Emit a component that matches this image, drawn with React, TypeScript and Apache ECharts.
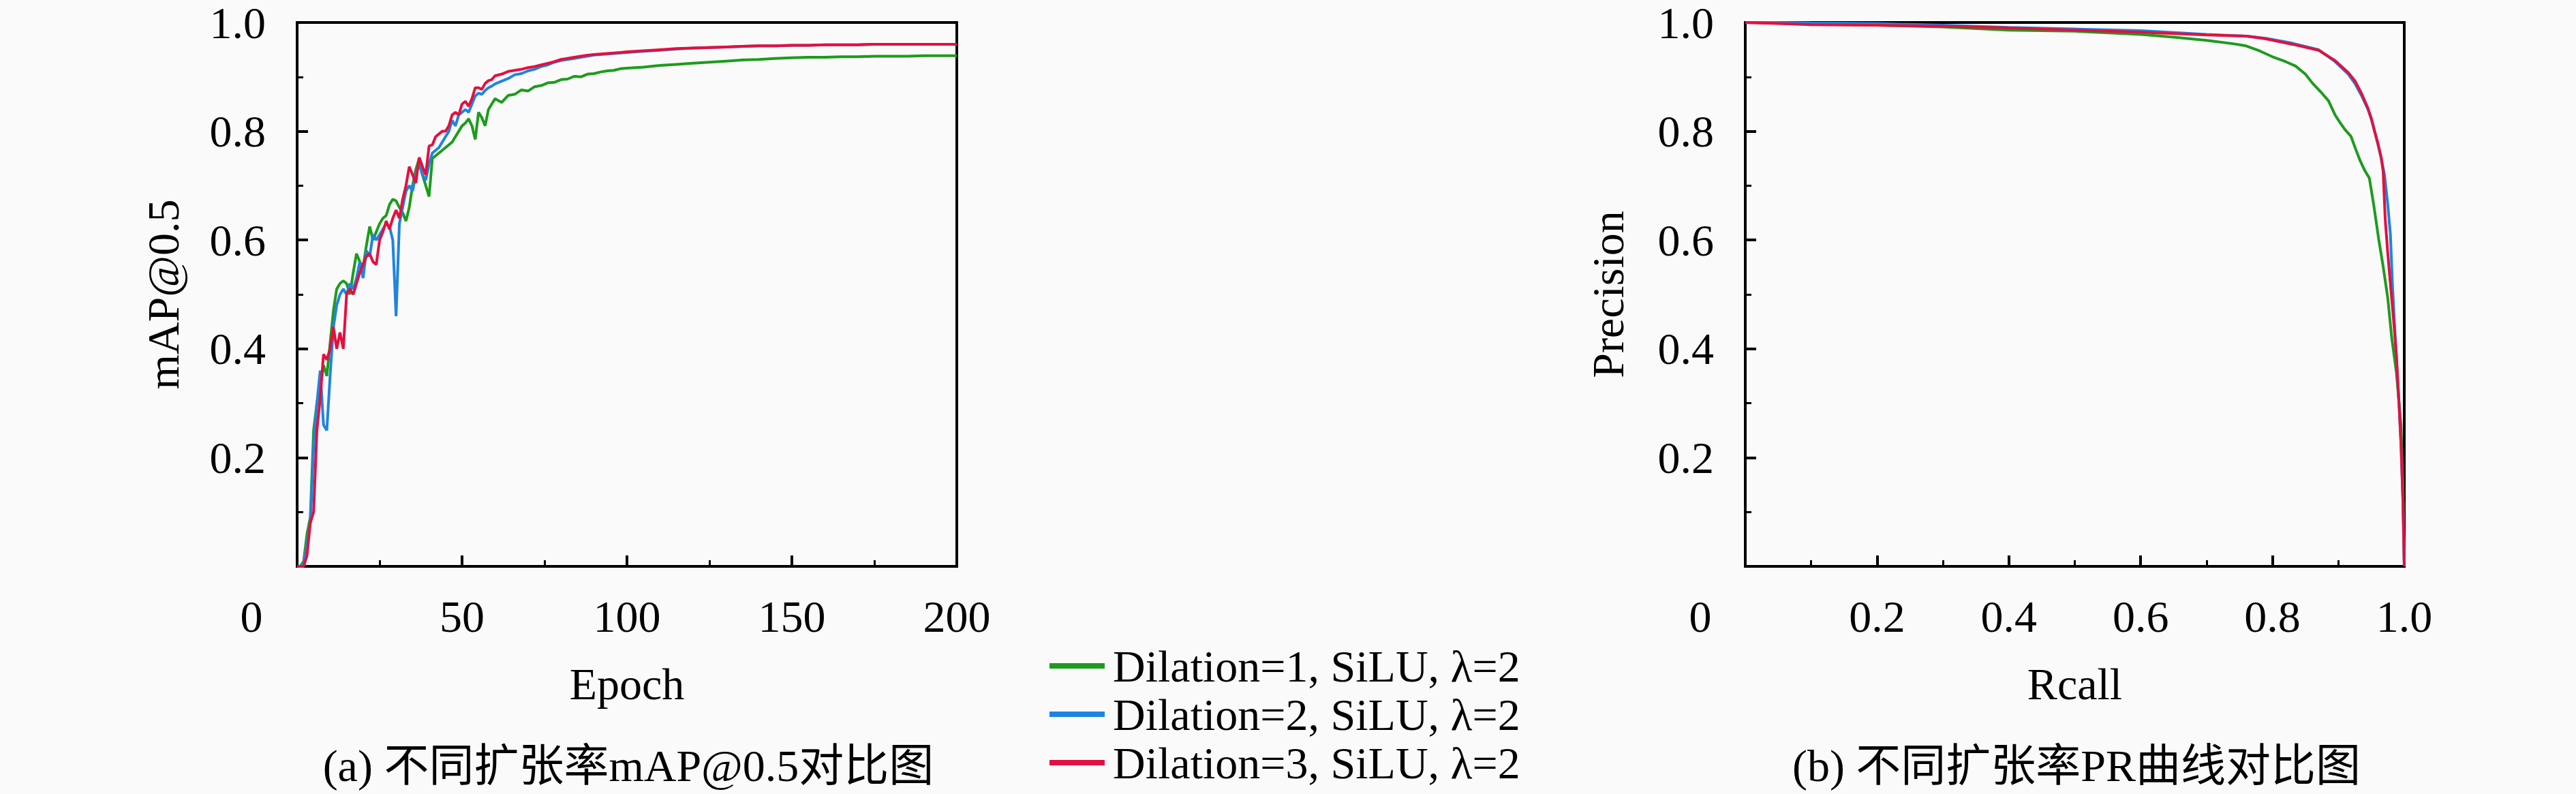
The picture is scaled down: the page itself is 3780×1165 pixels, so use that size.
import React, { useEffect, useRef } from "react";
import * as echarts from "echarts";

const epochs = [
  0, 1, 2, 3, 4, 5, 6, 7, 8, 9, 10, 11, 12, 13, 14, 15, 16, 17, 18, 19, 20, 21, 22, 23, 24, 25, 26, 27, 28, 29,
  30, 31, 32, 33, 34, 35, 36, 37, 38, 39, 40, 41, 42, 43, 44, 45, 46, 47, 48, 49, 50, 51, 52, 53, 54, 55, 56, 57, 58, 59,
  60, 62, 64, 66, 68, 70, 72, 74, 76, 78, 80, 82, 84, 86, 88, 90, 92, 94, 96, 98, 100,
  105, 110, 115, 120, 125, 130, 135, 140, 145, 150, 155, 160, 165, 170, 175, 180, 185, 190, 195, 200,
];

const mapD1 = [
  0.0, 0.0, 0.01, 0.06, 0.09, 0.25, 0.3, 0.33, 0.37, 0.35,
  0.41, 0.47, 0.51, 0.52, 0.525, 0.52, 0.5, 0.54, 0.575, 0.56,
  0.55, 0.59, 0.625, 0.6, 0.615, 0.63, 0.64, 0.645, 0.665, 0.675,
  0.672, 0.66, 0.65, 0.635, 0.66, 0.7, 0.73, 0.75, 0.72, 0.7,
  0.68, 0.75, 0.755, 0.76, 0.765, 0.77, 0.775, 0.78, 0.79, 0.8,
  0.81, 0.815, 0.823, 0.81, 0.785, 0.835, 0.825, 0.81, 0.84, 0.85,
  0.86,
  0.853, 0.866, 0.868, 0.876, 0.874, 0.882, 0.884, 0.889, 0.89, 0.895, 0.896, 0.901, 0.9, 0.905, 0.906, 0.909, 0.911, 0.912, 0.915, 0.916,
  0.918, 0.921, 0.923, 0.925, 0.927, 0.929, 0.931, 0.932, 0.934, 0.935, 0.936, 0.936, 0.937, 0.937, 0.938, 0.938, 0.938, 0.939, 0.939, 0.939,
];

const mapD2 = [
  0.0, 0.0, 0.005, 0.04, 0.08, 0.22, 0.3, 0.36, 0.26, 0.25,
  0.35, 0.44, 0.48, 0.5, 0.51, 0.5, 0.52, 0.51, 0.53, 0.56,
  0.53, 0.58, 0.57, 0.61, 0.6, 0.61, 0.62, 0.63, 0.625, 0.6,
  0.46, 0.63, 0.66, 0.69, 0.7, 0.69, 0.72, 0.74, 0.72, 0.71,
  0.74, 0.76, 0.765, 0.77, 0.78, 0.79, 0.8, 0.82, 0.81, 0.83,
  0.835, 0.84, 0.835, 0.85, 0.865, 0.87, 0.868, 0.875, 0.88, 0.883,
  0.887,
  0.892, 0.897, 0.904, 0.906, 0.911, 0.914, 0.919, 0.922, 0.927, 0.93, 0.932, 0.934, 0.936, 0.938, 0.94, 0.941, 0.942, 0.943, 0.944, 0.945,
  0.947, 0.949, 0.951, 0.953, 0.954, 0.955, 0.956, 0.957, 0.957, 0.958, 0.958, 0.959, 0.959, 0.959, 0.96, 0.96, 0.96, 0.96, 0.96, 0.96,
];

const mapD3 = [
  0.0, 0.0, 0.0, 0.02, 0.08, 0.1, 0.25, 0.31, 0.39, 0.38,
  0.4, 0.44, 0.4, 0.43, 0.4, 0.5, 0.51, 0.5, 0.52, 0.54,
  0.555, 0.57, 0.575, 0.56, 0.555, 0.6, 0.615, 0.635, 0.62, 0.64,
  0.655, 0.64, 0.675, 0.7, 0.735, 0.72, 0.705, 0.752, 0.735, 0.72,
  0.773, 0.775, 0.79, 0.795, 0.8, 0.8, 0.81, 0.83, 0.835, 0.83,
  0.85, 0.855, 0.846, 0.86, 0.88, 0.88, 0.877, 0.888, 0.893, 0.895,
  0.902,
  0.905, 0.91, 0.912, 0.914, 0.917, 0.919, 0.922, 0.925, 0.928, 0.932, 0.934, 0.936, 0.938, 0.94, 0.941, 0.942, 0.943, 0.944, 0.945, 0.946,
  0.948, 0.95, 0.952, 0.953, 0.954, 0.955, 0.956, 0.957, 0.957, 0.958, 0.958, 0.959, 0.959, 0.959, 0.96, 0.96, 0.96, 0.96, 0.96, 0.96,
];

const recallD1 = [
  0, 0.05, 0.1, 0.2, 0.3, 0.4, 0.5, 0.6, 0.65, 0.7, 0.74, 0.76, 0.78, 0.8, 0.82, 0.835, 0.85, 0.861, 0.875, 0.885,
  0.895, 0.902, 0.91, 0.919, 0.926, 0.933, 0.94, 0.947, 0.954, 0.961, 0.968, 0.975, 0.981, 0.988, 0.995, 0.998, 1.0,
];
const precD1 = [
  1.0, 0.999, 0.997, 0.995, 0.992, 0.986, 0.984, 0.978, 0.973, 0.967, 0.961, 0.957, 0.948, 0.937, 0.928, 0.92, 0.905, 0.888, 0.87, 0.856,
  0.83, 0.817, 0.803, 0.791, 0.768, 0.746, 0.728, 0.714, 0.662, 0.603, 0.551, 0.493, 0.42, 0.357, 0.26, 0.15, 0.0,
];

const recallD2 = [
  0, 0.05, 0.1, 0.2, 0.3, 0.4, 0.5, 0.6, 0.7, 0.76, 0.79, 0.83, 0.87, 0.895, 0.915, 0.925, 0.935, 0.945, 0.95, 0.955,
  0.96, 0.965, 0.97, 0.975, 0.979, 0.982, 0.985, 0.988, 0.992, 0.995, 0.998, 1.0,
];
const precD2 = [
  1.0, 1.0, 0.999, 0.998, 0.995, 0.991, 0.988, 0.985, 0.978, 0.975, 0.971, 0.962, 0.95, 0.928, 0.905, 0.888, 0.866, 0.84, 0.822, 0.8,
  0.776, 0.75, 0.72, 0.665, 0.61, 0.52, 0.45, 0.385, 0.3, 0.225, 0.12, 0.0,
];

const recallD3 = [
  0, 0.05, 0.1, 0.2, 0.3, 0.4, 0.5, 0.6, 0.7, 0.76, 0.79, 0.83, 0.87, 0.895, 0.915, 0.925, 0.935, 0.945, 0.95, 0.955,
  0.96, 0.965, 0.968, 0.971, 0.975, 0.979, 0.984, 0.988, 0.992, 0.995, 0.998, 1.0,
];
const precD3 = [
  1.0, 0.998, 0.996, 0.995, 0.993, 0.99, 0.986, 0.982, 0.977, 0.975, 0.97, 0.96, 0.949, 0.93, 0.908, 0.893, 0.87, 0.842, 0.824, 0.8,
  0.778, 0.752, 0.726, 0.64, 0.575, 0.519, 0.45, 0.389, 0.3, 0.227, 0.12, 0.0,
];

const seriesNames = ["Dilation=1, SiLU, λ=2", "Dilation=2, SiLU, λ=2", "Dilation=3, SiLU, λ=2"];
const seriesColors = ["#1c9c1c", "#1f84e0", "#e3103e"];
const epochTicks = [0, 50, 100, 150, 200];
const captionA = "(a) 不同扩张率mAP@0.5对比图";
const captionB = "(b) 不同扩张率PR曲线对比图";

const FONT = "Liberation Serif, Noto Sans CJK SC";
const FS = 66;

function pairs(xs: number[], ys: number[]) {
  return xs.map((x, i) => [x, ys[i]]);
}

export default function App() {
  const ref = useRef<HTMLDivElement>(null);
  useEffect(() => {
    if (!ref.current) return;
    const chart = echarts.init(ref.current, null, { renderer: "svg" });
    const axisCommon = {
      axisLine: { show: true, onZero: false, lineStyle: { color: "#000", width: 4 } },
      axisTick: { show: true, inside: true, length: 16, lineStyle: { color: "#000", width: 4 } },
      minorTick: { show: true, splitNumber: 2, length: 9, lineStyle: { color: "#000", width: 3 } },
      splitLine: { show: false },
      minorSplitLine: { show: false },
      nameTextStyle: { fontFamily: FONT, fontSize: FS, color: "#000" },
    };
    const labelCommon = {
      fontFamily: FONT,
      fontSize: FS,
      lineHeight: 50,
      color: "#000",
      showMinLabel: false,
    };
    const lineSeries = (name: string, color: string, data: number[][], xi: number) => ({
      type: "line",
      name,
      xAxisIndex: xi,
      yAxisIndex: xi,
      data,
      showSymbol: false,
      symbol: "none",
      lineStyle: { color, width: 4 },
      itemStyle: { color },
      z: 3,
    });
    const yLabel = { ...labelCommon, margin: 46, padding: [16, 0, 0, 0], formatter: (v: number) => v.toFixed(1) };
    chart.setOption({
      animation: false,
      backgroundColor: "#fafafa",
      textStyle: { fontFamily: FONT },
      grid: [
        { left: 436, top: 24, width: 968, height: 807, show: true, borderColor: "#000", borderWidth: 4, backgroundColor: "transparent" },
        { left: 2561, top: 24, width: 967, height: 807, show: true, borderColor: "#000", borderWidth: 4, backgroundColor: "transparent" },
      ],
      xAxis: [
        {
          ...axisCommon,
          type: "value",
          gridIndex: 0,
          min: epochTicks[0],
          max: epochTicks[epochTicks.length - 1],
          interval: 50,
          name: "Epoch",
          nameLocation: "middle",
          nameGap: 139,
          axisLabel: { ...labelCommon, margin: 48 },
        },
        {
          ...axisCommon,
          type: "value",
          gridIndex: 1,
          min: 0,
          max: 1,
          interval: 0.2,
          name: "Rcall",
          nameLocation: "middle",
          nameGap: 139,
          axisLabel: { ...labelCommon, margin: 48, formatter: (v: number) => v.toFixed(1) },
        },
      ],
      yAxis: [
        {
          ...axisCommon,
          type: "value",
          gridIndex: 0,
          min: 0,
          max: 1,
          interval: 0.2,
          name: "mAP@0.5",
          nameLocation: "middle",
          nameGap: 164,
          axisLabel: yLabel,
        },
        {
          ...axisCommon,
          type: "value",
          gridIndex: 1,
          min: 0,
          max: 1,
          interval: 0.2,
          name: "Precision",
          nameLocation: "middle",
          nameGap: 169,
          axisLabel: yLabel,
        },
      ],
      legend: {
        orient: "vertical",
        left: 1535,
        top: 939,
        itemWidth: 81,
        itemHeight: 20,
        itemGap: 5,
        icon: "path://M0,0 L10,0 L10,1 L0,1 Z",
        textStyle: { fontFamily: FONT, fontSize: FS, color: "#000", padding: [0, 0, 0, 7] },
        data: seriesNames,
      },
      series: [
        lineSeries(seriesNames[0], seriesColors[0], pairs(epochs, mapD1), 0),
        lineSeries(seriesNames[1], seriesColors[1], pairs(epochs, mapD2), 0),
        lineSeries(seriesNames[2], seriesColors[2], pairs(epochs, mapD3), 0),
        lineSeries(seriesNames[0], seriesColors[0], pairs(recallD1, precD1), 1),
        lineSeries(seriesNames[1], seriesColors[1], pairs(recallD2, precD2), 1),
        lineSeries(seriesNames[2], seriesColors[2], pairs(recallD3, precD3), 1),
      ],
      graphic: [
        { type: "text", x: 369, y: 904, style: { text: "0", fontFamily: FONT, fontSize: FS, fill: "#000", align: "center", verticalAlign: "middle" } },
        { type: "text", x: 2495, y: 904, style: { text: "0", fontFamily: FONT, fontSize: FS, fill: "#000", align: "center", verticalAlign: "middle" } },
        { type: "text", x: 922, y: 1123, style: { text: captionA, fontFamily: FONT, fontSize: FS, fill: "#000", align: "center", verticalAlign: "middle" } },
        { type: "text", x: 3047, y: 1123, style: { text: captionB, fontFamily: FONT, fontSize: FS, fill: "#000", align: "center", verticalAlign: "middle" } },
      ],
    });
    return () => chart.dispose();
  }, []);
  return (
    <div
      ref={ref}
      style={{ position: "absolute", left: 0, top: 0, width: 3780, height: 1165, background: "#fafafa" }}
    />
  );
}
